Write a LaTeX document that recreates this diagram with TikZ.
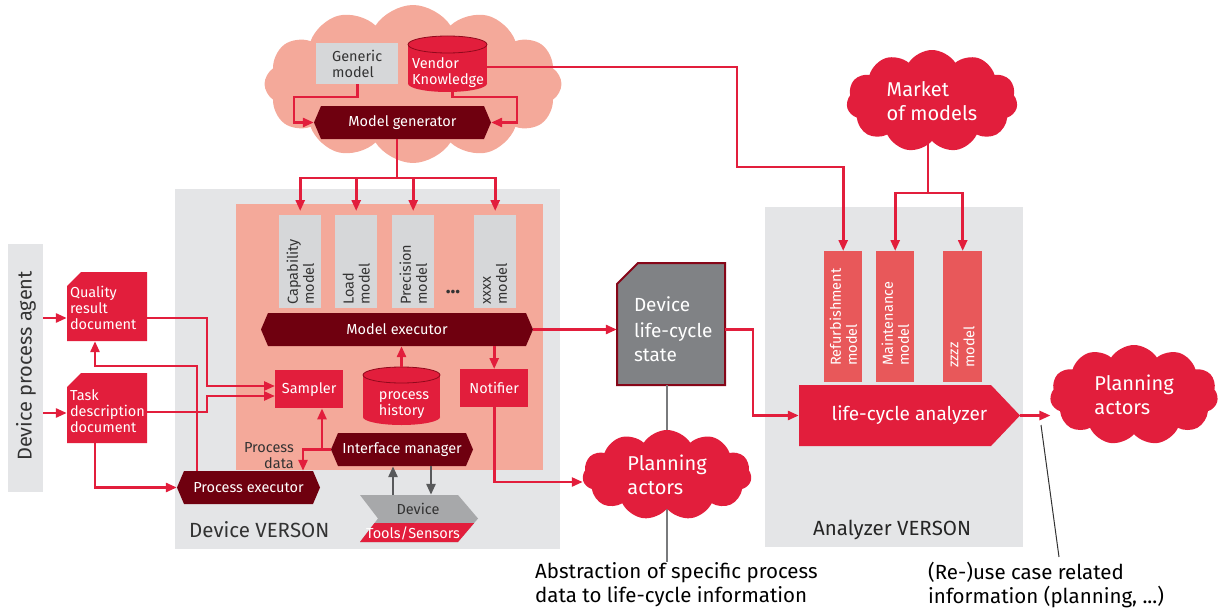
\documentclass[tikz,border=0pt]{standalone}
\usepackage{fontspec}
\setmainfont{Fira Sans}
\usetikzlibrary{arrows.meta,shapes.symbols,calc}
\definecolor{cred}{HTML}{E21E3C}
\definecolor{cdark}{HTML}{6F000F}
\definecolor{csalmon}{HTML}{F4A99A}
\definecolor{cbg}{HTML}{E4E5E7}
\definecolor{cbox}{HTML}{D6D7D9}
\definecolor{clight}{HTML}{E8585A}
\definecolor{cdoc}{HTML}{808285}
\definecolor{ctext}{HTML}{333333}
\definecolor{cchev}{HTML}{A7A8AA}
\definecolor{carrg}{HTML}{58595B}
\newcommand\fsmall{\fontsize{14.5}{16}\selectfont}
\newcommand\fmid{\fontsize{19}{24}\selectfont}
\newcommand\fbig{\fontsize{20}{24}\selectfont}
\newcommand\fnote{\fontsize{20.5}{24}\selectfont}
\newcommand\mkhex[6]{%
  \fill[cdark] (#2,{(#3+#5)/2}) -- (#2+7,#3) -- (#4-7,#3) -- (#4,{(#3+#5)/2}) -- (#4-7,#5) -- (#2+7,#5) -- cycle;
  \node[hexlabel, minimum width={#4-#2}, minimum height={#5-#3}] (#1) at ({(#2+#4)/2},{(#3+#5)/2}) {#6};
}
\newcommand\mkdoc[7]{%
  \path[#7] (#2,#3+#6) -- (#2+#6,#3) -- (#4,#3) -- (#4,#5) -- (#2,#5) -- cycle;
  \node[inner sep=0, minimum width={#4-#2}, minimum height={#5-#3}] (#1) at ({(#2+#4)/2},{(#3+#5)/2}) {};
}
\newcommand\mkcyl[6]{%
  \fill[cred] (#2,#3+#6) rectangle (#4,#5-#6);
  \fill[cred] ({(#2+#4)/2},#5-#6) ellipse [x radius={(#4-#2)/2}, y radius=#6];
  \filldraw[fill=cred, draw=cdark!70!cred, line width=0.8pt] ({(#2+#4)/2},#3+#6) ellipse [x radius={(#4-#2)/2}, y radius=#6];
  \node[inner sep=0, minimum width={#4-#2}, minimum height={#5-#3}] (#1) at ({(#2+#4)/2},{(#3+#5)/2}) {};
}
\begin{document}
\begin{tikzpicture}[x=1pt,y=-1pt,
  hexlabel/.style={inner sep=0, text=white, font=\fsmall},
  conn/.style={draw=cred, line width=2.6pt},
  arr/.style={conn, -{Triangle[length=11pt,width=9pt]}},
  garr/.style={draw=carrg, line width=2.6pt, -{Triangle[length=11pt,width=9pt]}},
  area/.style={inner sep=0, anchor=north west},
  redbox/.style={fill=cred, text=white, font=\fsmall, inner sep=0, anchor=north west},
  greybox/.style={fill=cbox, inner sep=0, anchor=north west},
  lightbox/.style={fill=clight, inner sep=0, anchor=north west},
  vlabel/.style={rotate=90, anchor=west, align=left, font=\fsmall, inner sep=0},
  blob/.style={cloud, cloud puffs=11, cloud puff arc=115, inner sep=0, fill=cred, text=white, align=left},
]
\useasboundingbox (0,0) rectangle (1219,610);

% background areas
\node[area, fill=cbg, minimum width=35pt, minimum height=248pt] (agent) at (8,244) {};
\node[rotate=90, text=ctext, font=\fbig] (agentl) at (26,366) {Device process agent};
\node[area, fill=cbg, minimum width=385pt, minimum height=360pt] (dv) at (175,189) {};
\node[area, fill=csalmon, minimum width=307pt, minimum height=266pt] (dvin) at (236,204) {};
\node[anchor=west, text=ctext, font=\fnote, inner sep=0] (dvl) at (189,530) {Device VERSON};
\node[area, fill=cbg, minimum width=258pt, minimum height=340pt] (av) at (765,207) {};
\node[anchor=west, text=black!85, font=\fnote, inner sep=0] (avl) at (813,530) {Analyzer VERSON};

% top cloud
\node[cloud, cloud puffs=12, cloud puff arc=115, aspect=1.9, fill=csalmon, minimum width=297pt, minimum height=158pt, inner sep=0] (topcloud) at (413,84) {};
\node[greybox, minimum width=82pt, minimum height=41pt, align=left, text=ctext, font=\fsmall] (generic) at (316,43) {Generic\\model};
\mkcyl{vendor}{408}{36}{487}{92}{8.5}
\node[text=white, font=\fsmall, align=left, inner sep=0] (vendorl) at (448,73) {Vendor\\Knowledge};
\mkhex{mgen}{314}{106}{491}{139}{Model generator}

% device models
\node[greybox, minimum width=42pt, minimum height=93pt] (cap) at (279,215) {};
\node[greybox, minimum width=42pt, minimum height=93pt] (load) at (335,215) {};
\node[greybox, minimum width=42pt, minimum height=93pt] (prec) at (392,215) {};
\node[greybox, minimum width=42pt, minimum height=93pt] (xxxx) at (474,215) {};
\node[vlabel, text=ctext] (capl) at (cap.center |- 0,305) {Capability\\model};
\node[vlabel, text=ctext] (loadl) at (load.center |- 0,305) {Load\\model};
\node[vlabel, text=ctext] (precl) at (prec.center |- 0,305) {Precision\\model};
\node[vlabel, text=ctext] (xxxxl) at (xxxx.center |- 0,305) {xxxx\\model};
\node[text=ctext, font=\fbig\bfseries, inner sep=0] (dots) at (453,292) {...};

\mkhex{mexec}{261}{313}{533}{346}{Model executor}
\node[redbox, minimum width=68pt, minimum height=38pt] (sampler) at (275,370) {Sampler};
\mkcyl{hist}{363}{367}{440}{425}{8}
\node[text=white, font=\fsmall, align=left, inner sep=0] (histl) at (404,405) {process\\history};
\node[redbox, minimum width=68pt, minimum height=38pt] (notifier) at (460,369) {Notifier};
\mkhex{iface}{331}{433}{473}{466}{Interface manager}
\mkhex{pexec}{177}{471}{320}{504}{Process executor}
\node[anchor=east, align=right, text=ctext, font=\fsmall, inner sep=0] (pdata) at (294,456) {Process\\data};

% device chevron
\fill[cchev] (360,495) -- (458,495) -- (478,518.5) -- (458,542) -- (360,542) -- (378,518.5) -- cycle;
\begin{scope}
\clip (360,495) -- (458,495) -- (478,518.5) -- (458,542) -- (360,542) -- (378,518.5) -- cycle;
\fill[cred] (350,523) rectangle (490,545);
\end{scope}
\node[inner sep=0, minimum width=118pt, minimum height=47pt] (device) at (419,518.5) {};
\node[text=ctext, font=\fsmall, inner sep=0] (devl) at (418,509) {Device};
\node[text=white, font=\fsmall, inner sep=0] (tooll) at (413,533) {Tools/Sensors};

% documents
\mkdoc{quality}{67}{272}{147}{341}{14}{fill=cred}
\node[text=white, font=\fsmall, align=left, text width=76pt, inner sep=0] (qualityl) at (108,308) {Quality\\result\\document};
\mkdoc{task}{67}{373}{147}{443}{14}{fill=cred}
\node[text=white, font=\fsmall, align=left, text width=76pt, inner sep=0] (taskl) at (108,411) {Task\\description\\document};
\mkdoc{dlc}{617}{263}{725}{385}{21}{fill=cdoc, draw=cdark!80!cred, line width=2pt}
\node[text=white, font=\fmid, align=left, text width=88pt, inner sep=0] (dlcl) at (678,329) {\fontsize{19}{26}\selectfont Device\\life-cycle\\state};

% analyzer models
\node[lightbox, minimum width=38pt, minimum height=131pt] (refurb) at (824,251) {};
\node[lightbox, minimum width=38pt, minimum height=131pt] (maint) at (876,251) {};
\node[lightbox, minimum width=39pt, minimum height=131pt] (zzzz) at (943,251) {};
\node[vlabel, text=white] (refurbl) at (refurb.center |- 0,366) {Refurbishment\\model};
\node[vlabel, text=white] (maintl) at (maint.center |- 0,366) {Maintenance\\model};
\node[vlabel, text=white] (zzzzl) at (zzzz.center |- 0,368) {zzzz\\model};
\fill[cred] (799,385) -- (991,385) -- (1020,415.5) -- (991,446) -- (799,446) -- cycle;
\node[inner sep=0, minimum width=221pt, minimum height=61pt, text=white, font=\fmid] (lca) at (909.5,415.5) {life-cycle analyzer};

% clouds
\node[blob, aspect=1.7, minimum width=171pt, minimum height=102pt, font=\fbig] (market) at (932,101) {Market\\of models};
\node[blob, aspect=1.7, minimum width=168pt, minimum height=100pt, font=\fbig] (rplan) at (1134,395) {Planning\\actors};

% bottom texts
\node[anchor=north west, align=left, font=\fnote, inner sep=0] (abstxt) at (535,562) {Abstraction of specific process\\data to life-cycle information};
\node[anchor=north west, align=left, font=\fnote, inner sep=0] (reusetxt) at (928,562) {(Re-)use case related\\information (planning, ...)};
\draw[draw=carrg!80, line width=1.2pt] (dlc.south -| 667,0) -- (abstxt.north -| 667,0);
\node[blob, aspect=1.8, minimum width=169pt, minimum height=90pt, font=\fbig] (mplan) at (667,475) {Planning\\actors};
\coordinate (rtop) at (1041,425);
\coordinate (rbot) at (1059,557);
\draw[line width=1pt, black!80] (rtop) -- (rbot);

% connectors
\draw[arr] (generic.south) |- (294,97) |- (mgen.west);
\draw[arr] ([xshift=5pt]vendor.south) |- (517,97) |- (mgen.east);
\draw[conn] (mgen.south -| 397,0) -- (397,178);
\foreach \m in {cap,load,prec,xxxx} \draw[arr, shorten >=4pt] (397,178) -| (\m.north);
\draw[arr] (vendor.east |- 0,67) -| (737,167) -| (refurb.north);
\draw[conn] (market.south -| 928,0) -- (928,193);
\draw[arr] (928,193) -| (maint.north);
\draw[arr] (928,193) -| (zzzz.north);
\draw[arr] (mexec.east) -- (mexec.east -| dlc.west);
\draw[arr] (dlc.east |- mexec.east) -| (753,415.5) -- (lca.west);
\draw[arr] (lca.east) -- (lca.east -| rplan.west);
\draw[arr] (notifier.north |- mexec.south) -- (notifier.north);
\draw[arr] (hist.north |- 0,367) -- (hist.north |- mexec.south);
\draw[arr] (notifier.south) |- (mplan.west |- 0,482);
\draw[arr] (iface.west) -| (sampler.south -| 322,0);
\draw[arr] (iface.west) -| (pexec.north -| 303,0);
\draw[garr] (device.north -| 393,0) -- (iface.south -| 393,0);
\draw[garr] (iface.south -| 431,0) -- (device.north -| 431,0);
\draw[arr] (agent.east |- 0,318) -- (quality.west |- 0,318);
\draw[arr] (agent.east |- 0,413) -- (task.west |- 0,413);
\draw[arr] (quality.east |- 0,318) -| (207,386) -- (sampler.west |- 0,386);
\draw[arr] (task.east |- 0,412) -| (207,396) -- (sampler.west |- 0,396);
\draw[arr] (task.south -| 95,0) |- (pexec.west);
\draw[arr] (pexec.north -| 197,0) |- (95,366) -- (quality.south -| 95,0);
\end{tikzpicture}
\end{document}
